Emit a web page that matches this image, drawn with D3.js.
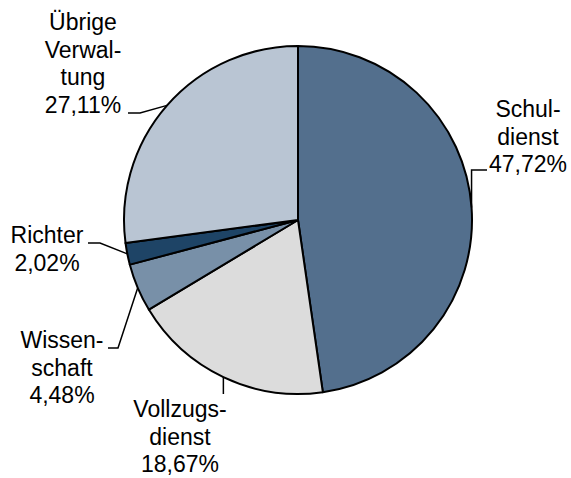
<!DOCTYPE html>
<html>
<head>
<meta charset="utf-8">
<script src="https://cdn.jsdelivr.net/npm/d3@7"></script>
<style>
  body { margin: 0; background: #fff; }
  svg text { font-family: "Liberation Sans", Arial, sans-serif; font-size: 23px; fill: #000; }
</style>
</head>
<body>
<div id="chart"></div>
<script>
// data
const categories = ['Schuldienst', 'Vollzugsdienst', 'Wissenschaft', 'Richter', 'Übrige Verwaltung'];
const shares = [47.72, 18.67, 4.48, 2.02, 27.11];
const labelLines = [
    ['Schul-', 'dienst', '47,72%'],
    ['Vollzugs-', 'dienst', '18,67%'],
    ['Wissen-', 'schaft', '4,48%'],
    ['Richter', '2,02%'],
    ['Übrige', 'Verwal-', 'tung', '27,11%']
];
const colors = ['#536f8d', '#dcdcdc', '#7890a8', '#1e4466', '#b9c5d3'];

const W = 571, H = 478;
const cx = 298, cy = 220, R = 174;

// label layout: text centre x, first baseline, plus the leader knee/end
const labelPos = [
    { x: 528, y: 117, knee: [null, 170], end: [487, 170] },
    { x: 180, y: 417, knee: null, end: [null, 394] },
    { x: 62, y: 348, knee: null, end: [118, 348, 108] },
    { x: 47, y: 243, knee: [100, 243], end: [88, 243] },
    { x: 83, y: 30, knee: [140, 113], end: [128, 113] }
];
const lineH = 27.5;

const svg = d3.select('#chart').append('svg')
    .attr('width', W)
    .attr('height', H);

const pie = d3.pie().sort(null).value(d => d)(shares);
const arc = d3.arc().innerRadius(0).outerRadius(R);

const g = svg.append('g').attr('transform', `translate(${cx},${cy})`);

g.selectAll('path.slice')
    .data(pie)
    .join('path')
    .attr('class', 'slice')
    .attr('d', arc)
    .attr('fill', (d, i) => colors[i])
    .attr('stroke', '#000')
    .attr('stroke-width', 2)
    .attr('stroke-linejoin', 'round');

// leader lines start on the arc at the slice's middle angle
pie.forEach((d, i) => {
    const a = (d.startAngle + d.endAngle) / 2;
    const px = cx + R * Math.sin(a);
    const py = cy - R * Math.cos(a);
    const lp = labelPos[i];
    let pts = [[px, py]];
    if (i === 0) {
        pts.push([px, lp.knee[1]], lp.end);
    } else if (i === 1) {
        pts.push([px, lp.end[1]]);
    } else if (i === 2) {
        pts.push([lp.end[0], lp.end[1]], [lp.end[2], lp.end[1]]);
    } else {
        pts.push(lp.knee, lp.end);
    }
    svg.append('path')
        .attr('d', d3.line()(pts))
        .attr('fill', 'none')
        .attr('stroke', '#000')
        .attr('stroke-width', 1.5);
});

// labels
labelLines.forEach((lines, i) => {
    const lp = labelPos[i];
    const t = svg.append('text')
        .attr('text-anchor', 'middle');
    lines.forEach((s, k) => {
        t.append('tspan')
            .attr('x', lp.x)
            .attr('y', lp.y + k * lineH)
            .text(s);
    });
});
</script>
</body>
</html>
